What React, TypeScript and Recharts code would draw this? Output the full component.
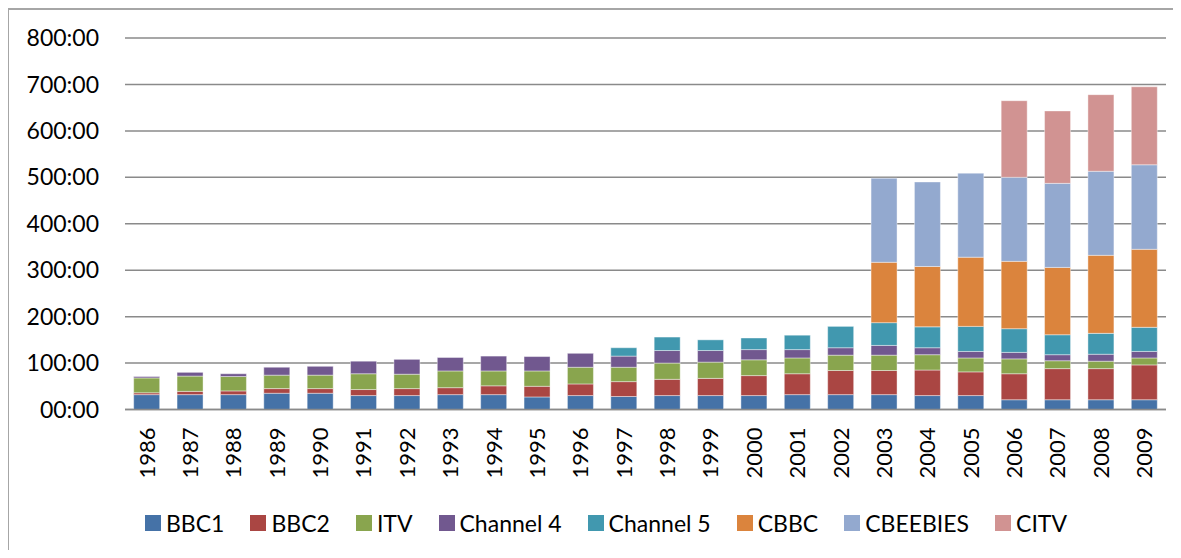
import React from 'react';
import { BarChart, Bar, XAxis, YAxis, CartesianGrid } from 'recharts';

const years = ['1986', '1987', '1988', '1989', '1990', '1991', '1992', '1993', '1994', '1995', '1996', '1997',
  '1998', '1999', '2000', '2001', '2002', '2003', '2004', '2005', '2006', '2007', '2008', '2009'];

// hours per year, per channel
const bbc1 = [32, 32, 32, 35, 35, 30, 30, 32, 32, 27, 30, 28, 30, 30, 30, 32, 32, 32, 30, 30, 21, 21, 21, 21];
const bbc2 = [4, 7, 8, 10, 10, 13, 15, 15, 19, 23, 25, 32, 35, 37, 43, 45, 52, 52, 55, 51, 56, 67, 67, 75];
const itv = [32, 33, 31, 29, 29, 34, 31, 36, 32, 33, 36, 31, 35, 35, 34, 34, 33, 33, 33, 30, 32, 17, 16, 15];
const channel4 = [3, 8, 6, 17, 19, 27, 32, 29, 32, 31, 30, 24, 27, 25, 22, 18, 16, 21, 15, 14, 14, 13, 15, 14];
const channel5 = [0, 0, 0, 0, 0, 0, 0, 0, 0, 0, 0, 18, 29, 23, 25, 31, 46, 49, 45, 54, 51, 43, 45, 52];
const cbbc = [0, 0, 0, 0, 0, 0, 0, 0, 0, 0, 0, 0, 0, 0, 0, 0, 0, 130, 130, 149, 145, 145, 168, 168];
const cbeebies = [0, 0, 0, 0, 0, 0, 0, 0, 0, 0, 0, 0, 0, 0, 0, 0, 0, 181, 182, 181, 181, 181, 181, 182];
const citv = [0, 0, 0, 0, 0, 0, 0, 0, 0, 0, 0, 0, 0, 0, 0, 0, 0, 0, 0, 0, 165, 156, 165, 168];

const yTicks = [0, 100, 200, 300, 400, 500, 600, 700, 800];

const SERIES = [
  { key: 'BBC1', values: bbc1, color: '#4572A7' },
  { key: 'BBC2', values: bbc2, color: '#AA4643' },
  { key: 'ITV', values: itv, color: '#89A54E' },
  { key: 'Channel 4', values: channel4, color: '#71588F' },
  { key: 'Channel 5', values: channel5, color: '#4198AF' },
  { key: 'CBBC', values: cbbc, color: '#DB843D' },
  { key: 'CBEEBIES', values: cbeebies, color: '#93A9CF' },
  { key: 'CITV', values: citv, color: '#D19392' },
];

const data = years.map((year, i) => {
  const row: Record<string, string | number> = { year };
  SERIES.forEach(s => { row[s.key] = s.values[i]; });
  return row;
});

const FONT = 'Lato, "Open Sans", sans-serif';

const formatHours = (v: number) => (v === 0 ? '00:00' : `${v}:00`);

const YearTick = (props: any) => {
  const { x, y, payload } = props;
  const ty = y + 18;
  return (
    <text
      x={x}
      y={ty}
      dy="0.36em"
      textAnchor="end"
      transform={`rotate(-90, ${x}, ${ty})`}
      fontSize={22}
      fontFamily={FONT}
      fill="#000"
    >
      {payload.value}
    </text>
  );
};

const App: React.FC = () => {
  return (
    <div style={{ position: 'relative', width: 1165, height: 542 }}>
      {/* chart area frame: only the top and left edges are in view */}
      <div style={{ position: 'absolute', left: -1, top: 0, width: 2, height: 542, background: '#a6a6a6' }}></div>
      <div style={{ position: 'absolute', left: -1, top: 0, width: 1166, height: 2, background: '#a6a6a6' }}></div>
      <div style={{ position: 'absolute', left: 0, top: 0 }}>
        <BarChart
          width={1165}
          height={542}
          data={data}
          margin={{ top: 30, right: 7, left: 0, bottom: 0 }}
          barCategoryGap="20%"
        >
          <CartesianGrid horizontal vertical={false} stroke="#8a8a8a" strokeWidth={1.5} />
          <XAxis
            dataKey="year"
            height={140.5}
            interval={0}
            tickLine={false}
            tickSize={0}
            tickMargin={0}
            axisLine={{ stroke: '#8a8a8a', strokeWidth: 1.5 }}
            tick={<YearTick />}
          />
          <YAxis
            width={117}
            domain={[0, 800]}
            ticks={yTicks}
            tickFormatter={formatHours}
            axisLine={false}
            tickLine={false}
            tickSize={0}
            tickMargin={26}
            tick={{ fontSize: 23, fontFamily: FONT, fill: '#000' }}
          />
          {SERIES.map(s => (
            <Bar
              key={s.key}
              dataKey={s.key}
              stackId="hours"
              fill={s.color}
              stroke="rgba(255,255,255,0.55)"
              strokeWidth={0.75}
              isAnimationActive={false}
            />
          ))}
        </BarChart>
      </div>
      {/* legend */}
      <div style={{ position: 'absolute', left: 137, top: 503, display: 'flex', alignItems: 'center', fontFamily: FONT, fontSize: 23, color: '#000', whiteSpace: 'nowrap' }}>
        {SERIES.map(s => (
          <div key={s.key} style={{ display: 'flex', alignItems: 'center', marginRight: 26 }}>
            <span style={{ width: 16, height: 16, background: s.color, marginRight: 5, display: 'inline-block' }}></span>
            <span style={{ lineHeight: '24px' }}>{s.key}</span>
          </div>
        ))}
      </div>
    </div>
  );
};

export default App;
